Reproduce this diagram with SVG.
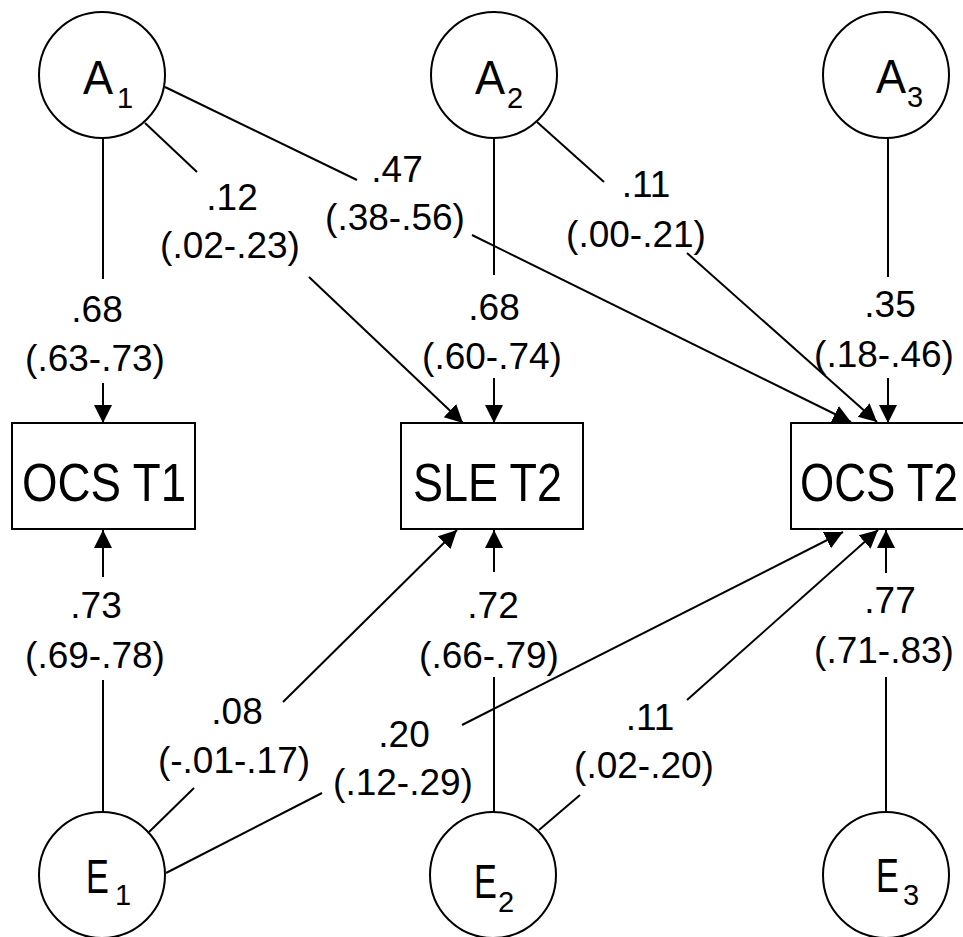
<svg xmlns="http://www.w3.org/2000/svg" width="963" height="937" viewBox="0 0 963 937">
<defs>
<marker id="arr" markerUnits="userSpaceOnUse" markerWidth="20" markerHeight="20" refX="18" refY="9" orient="auto">
<path d="M0,0 L18,9 L0,18 z" fill="#000"/>
</marker>
<style>
.bg{fill:#fff}
.node circle,.node rect{fill:#fff;stroke:#000;stroke-width:2}
.big{font-family:"Liberation Sans",Arial,sans-serif;font-size:49px;fill:#000}
.sub{font-family:"Liberation Sans",Arial,sans-serif;font-size:29px;fill:#000}
.box{font-family:"Liberation Sans",Arial,sans-serif;font-size:53px;fill:#000}
.lbl{font-family:"Liberation Sans",Arial,sans-serif;font-size:37px;fill:#000;text-anchor:middle}
#connectors line{stroke:#000;stroke-width:2;fill:none}
#connectors line.a{marker-end:url(#arr)}
</style>
</defs>
<rect class="bg" x="0" y="0" width="963" height="937"/>
<g id="connectors">
<line x1="103" y1="138" x2="103" y2="279"/>
<line class="a" x1="103" y1="383" x2="103" y2="423"/>
<line x1="145" y1="123" x2="197" y2="172"/>
<line class="a" x1="309" y1="277" x2="463" y2="423"/>
<line x1="165" y1="87" x2="357" y2="180"/>
<line class="a" x1="472" y1="235" x2="851" y2="422"/>
<line x1="494" y1="138" x2="494" y2="275"/>
<line class="a" x1="494" y1="378" x2="494" y2="423"/>
<line x1="537" y1="122" x2="604" y2="182"/>
<line class="a" x1="687" y1="253" x2="877" y2="422"/>
<line x1="888" y1="138" x2="888" y2="277"/>
<line class="a" x1="888" y1="378" x2="888" y2="423"/>
<line x1="103" y1="813" x2="103" y2="680"/>
<line class="a" x1="103" y1="577" x2="103" y2="530"/>
<line x1="149" y1="832" x2="194" y2="788"/>
<line class="a" x1="283" y1="702" x2="457" y2="530"/>
<line x1="166" y1="873" x2="322" y2="793"/>
<line class="a" x1="462" y1="725" x2="843" y2="532"/>
<line x1="494" y1="813" x2="494" y2="677"/>
<line class="a" x1="494" y1="572" x2="494" y2="530"/>
<line x1="539" y1="830" x2="580" y2="795"/>
<line class="a" x1="687" y1="700" x2="878" y2="530"/>
<line x1="886" y1="813" x2="886" y2="677"/>
<line class="a" x1="886" y1="573" x2="886" y2="530"/>
</g>
<g id="labels">
<text class="lbl" x="97" y="322">.68</text>
<text class="lbl" x="95" y="371">(.63-.73)</text>
<text class="lbl" x="232" y="210">.12</text>
<text class="lbl" x="230" y="258">(.02-.23)</text>
<text class="lbl" x="397" y="182">.47</text>
<text class="lbl" x="395" y="230">(.38-.56)</text>
<text class="lbl" x="494" y="320">.68</text>
<text class="lbl" x="492" y="369">(.60-.74)</text>
<text class="lbl" x="646" y="197">.11</text>
<text class="lbl" x="636" y="247">(.00-.21)</text>
<text class="lbl" x="890" y="317">.35</text>
<text class="lbl" x="884" y="367">(.18-.46)</text>
<text class="lbl" x="96" y="618">.73</text>
<text class="lbl" x="95" y="668">(.69-.78)</text>
<text class="lbl" x="237" y="724">.08</text>
<text class="lbl" x="234" y="773">(-.01-.17)</text>
<text class="lbl" x="404" y="747">.20</text>
<text class="lbl" x="403" y="795">(.12-.29)</text>
<text class="lbl" x="493" y="618">.72</text>
<text class="lbl" x="489" y="668">(.66-.79)</text>
<text class="lbl" x="650" y="730">.11</text>
<text class="lbl" x="644" y="778">(.02-.20)</text>
<text class="lbl" x="890" y="613">.77</text>
<text class="lbl" x="884" y="663">(.71-.83)</text>
</g>
<g id="A1" class="node">
<circle cx="102" cy="75" r="63"/>
<text class="big" transform="translate(83,94) scale(0.92,1)">A</text>
<text class="sub" x="117" y="108">1</text>
</g>
<g id="A2" class="node">
<circle cx="494" cy="75" r="63"/>
<text class="big" transform="translate(475,94) scale(0.92,1)">A</text>
<text class="sub" x="507" y="108">2</text>
</g>
<g id="A3" class="node">
<circle cx="886" cy="75" r="63"/>
<text class="big" transform="translate(876,93) scale(0.92,1)">A</text>
<text class="sub" x="907" y="107">3</text>
</g>
<g id="OCST1" class="node">
<rect x="12" y="423" width="183" height="106"/>
<text class="box" transform="translate(22,501) scale(0.862,1)">OCS T1</text>
</g>
<g id="SLET2" class="node">
<rect x="401" y="423" width="182" height="106"/>
<text class="box" transform="translate(413,501) scale(0.848,1)">SLE T2</text>
</g>
<g id="OCST2" class="node">
<rect x="791" y="423" width="190" height="106"/>
<text class="box" transform="translate(800,501) scale(0.83,1)">OCS T2</text>
</g>
<g id="E1" class="node">
<circle cx="102" cy="875" r="63"/>
<text class="big" transform="translate(86,893) scale(0.7,1)">E</text>
<text class="sub" x="115" y="905">1</text>
</g>
<g id="E2" class="node">
<circle cx="493" cy="875" r="63"/>
<text class="big" transform="translate(474,898) scale(0.7,1)">E</text>
<text class="sub" x="498" y="912">2</text>
</g>
<g id="E3" class="node">
<circle cx="886" cy="875" r="63"/>
<text class="big" transform="translate(876,892) scale(0.7,1)">E</text>
<text class="sub" x="903" y="905">3</text>
</g>
</svg>
